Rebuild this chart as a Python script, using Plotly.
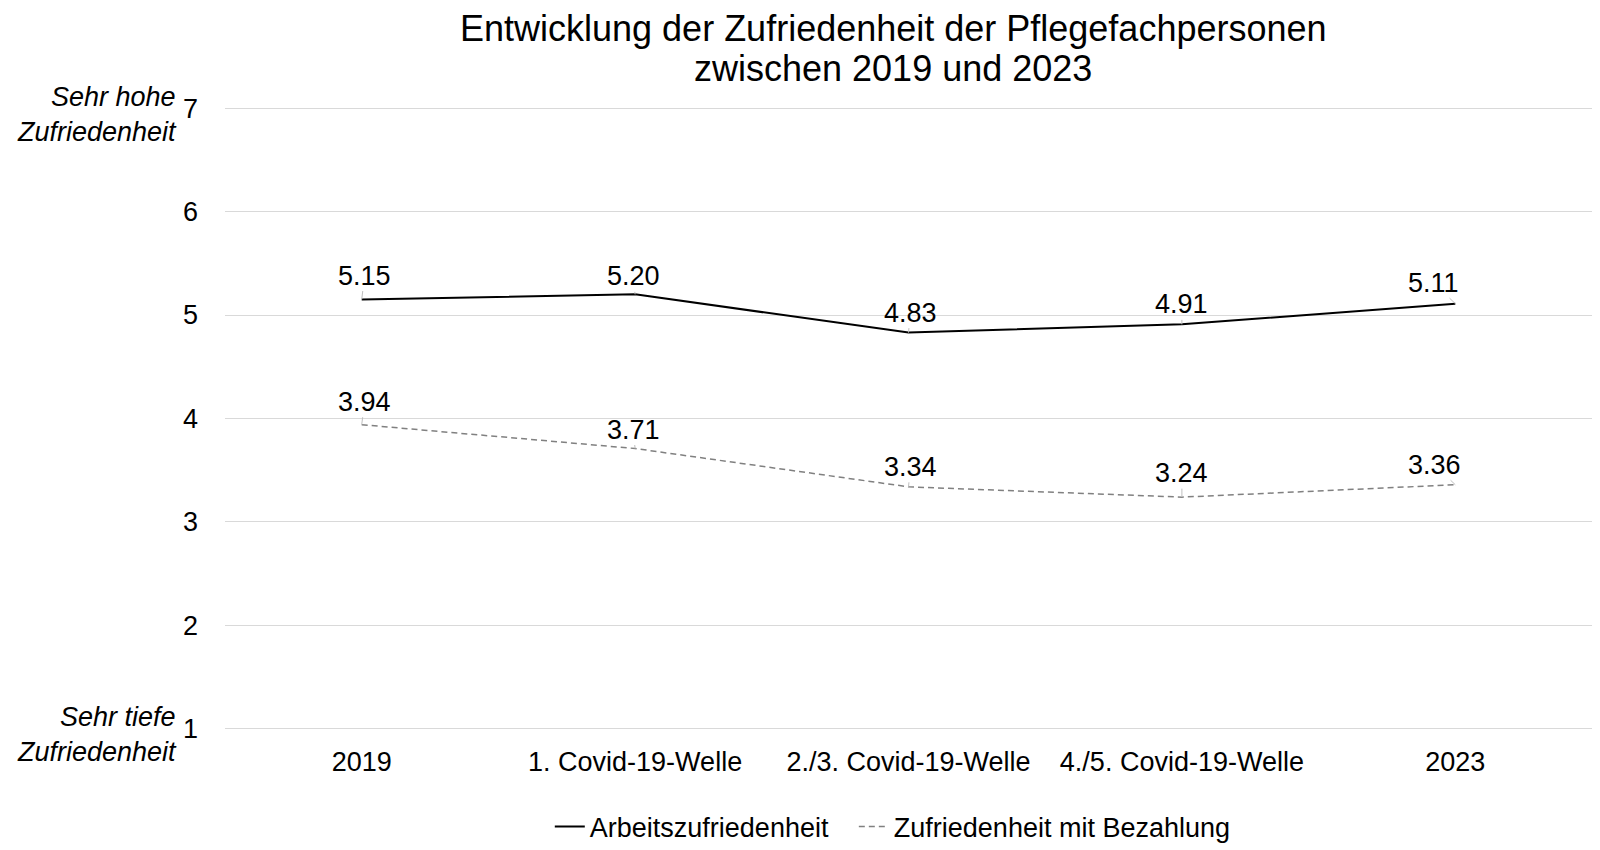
import plotly.graph_objects as go

categories = ["2019", "1. Covid-19-Welle", "2./3. Covid-19-Welle", "4./5. Covid-19-Welle", "2023"]
arbeit = [5.15, 5.20, 4.83, 4.91, 5.11]
bezahlung = [3.94, 3.71, 3.34, 3.24, 3.36]
y_ticks = [1, 2, 3, 4, 5, 6, 7]
title_lines = ["Entwicklung der Zufriedenheit der Pflegefachpersonen", "zwischen 2019 und 2023"]

# label offsets (px) for data labels with leader lines
arbeit_ax = [3, -2, 2, 0, -22]
arbeit_ay = [-24, -18, -20, -20, -21]
bez_ax = [3, -2, 2, 0, -21]
bez_ay = [-23, -19, -20, -24, -20]

FONT = "Liberation Sans, Arial, sans-serif"
FS = 27

fig = go.Figure()
fig.add_trace(go.Scatter(x=categories, y=arbeit, mode="lines", name="Arbeitszufriedenheit",
                         line=dict(color="#000000", width=2), legend="legend"))
fig.add_trace(go.Scatter(x=categories, y=bezahlung, mode="lines", name="Zufriedenheit mit Bezahlung",
                         line=dict(color="#808080", width=1.5, dash="6px,4px"), legend="legend2"))

annotations = []
for vals, axs, ays in [(arbeit, arbeit_ax, arbeit_ay), (bezahlung, bez_ax, bez_ay)]:
    for i, (v, ax, ay) in enumerate(zip(vals, axs, ays)):
        annotations.append(dict(x=i, y=v, xref="x", yref="y", text=f"{v:.2f}",
                                showarrow=True, arrowhead=0, arrowwidth=1, arrowcolor="#bfbfbf",
                                ax=ax, ay=ay, standoff=0, startstandoff=0, borderpad=0,
                                font=dict(size=FS, color="#000000", family=FONT)))

annotations.append(dict(x=0, y=7, xref="paper", yref="y", text="<i>Sehr hohe<br>Zufriedenheit</i>",
                        showarrow=False, xanchor="right", yanchor="middle", align="right",
                        xshift=-46, yshift=-6, font=dict(size=FS, color="#000000", family=FONT)))
annotations.append(dict(x=0, y=1, xref="paper", yref="y", text="<i>Sehr tiefe<br>Zufriedenheit</i>",
                        showarrow=False, xanchor="right", yanchor="middle", align="right",
                        xshift=-46, yshift=-6, font=dict(size=FS, color="#000000", family=FONT)))
# title (two lines, tight spacing as in reference)
for line, ys in zip(title_lines, [78, 38]):
    annotations.append(dict(x=0.4887, y=1, xref="paper", yref="paper", text=line, showarrow=False,
                            xanchor="center", yanchor="middle", yshift=ys,
                            font=dict(size=36, color="#000000", family=FONT)))

legend_common = dict(orientation="h", xanchor="left", y=0.0274, yref="container", yanchor="middle",
                     font=dict(size=FS, color="#000000"), itemwidth=30, bgcolor="rgba(0,0,0,0)")

fig.update_layout(
    width=1592, height=842,
    margin=dict(l=217, r=8, t=98, b=119),
    paper_bgcolor="white", plot_bgcolor="white",
    font=dict(family=FONT, size=FS, color="#000000"),
    xaxis=dict(type="category", range=[-0.5, 4.5], showgrid=False, showline=False, zeroline=False,
               ticks="", ticklabelstandoff=12, tickfont=dict(size=FS)),
    yaxis=dict(range=[0.98, 7.02], tickvals=y_ticks, showgrid=True, gridcolor="#d9d9d9", gridwidth=1,
               zeroline=False, showline=False, ticks="", ticklabelstandoff=26,
               tickfont=dict(size=FS)),
    legend=dict(x=0.2376, **legend_common),
    legend2=dict(x=0.460, **legend_common),
    annotations=annotations,
    showlegend=True,
)

fig.write_html("out.html")
